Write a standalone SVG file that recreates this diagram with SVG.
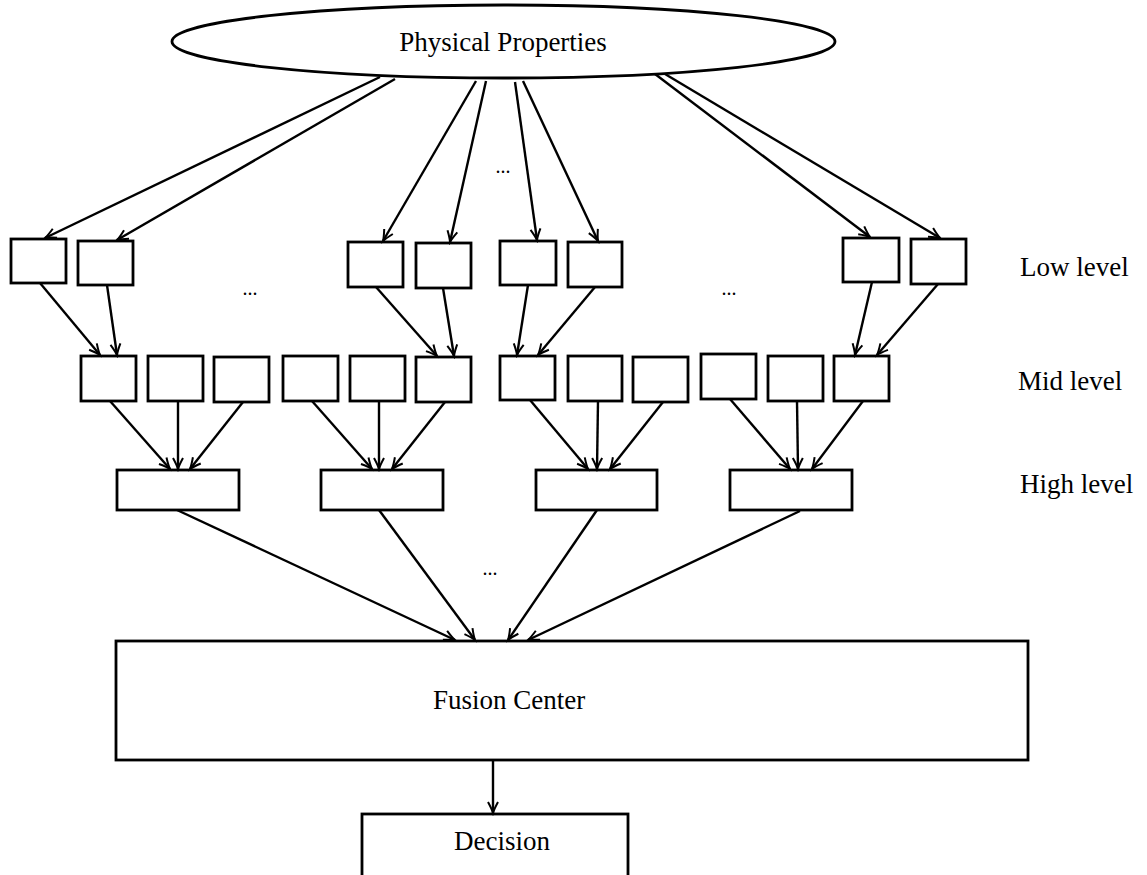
<svg xmlns="http://www.w3.org/2000/svg" width="1147" height="875" viewBox="0 0 1147 875">
<style>
.box{fill:#fff;stroke:#000;stroke-width:2.8}
.lbl{font-family:"Liberation Serif","Times New Roman",serif;font-size:27px;fill:#000}
.dots{font-family:"Liberation Serif","Times New Roman",serif;font-size:20px;fill:#000}
.c line{stroke:#000;stroke-width:2.4;marker-end:url(#ah)}
</style>
<defs>
<marker id="ah" markerUnits="userSpaceOnUse" markerWidth="16" markerHeight="14" viewBox="-13 -7 16 14" refX="0" refY="0" orient="auto">
<path d="M-11,-5 Q-4,-1.2 0,0 Q-4,1.2 -11,5" fill="none" stroke="#000" stroke-width="2"/>
</marker>
</defs>
<rect width="1147" height="875" fill="#fff"/>
<g id="physical-properties">
<ellipse cx="503.5" cy="41.5" rx="331.5" ry="36.5" fill="#fff" stroke="#000" stroke-width="2.8"/>
<text class="lbl" x="503" y="51" text-anchor="middle">Physical Properties</text>
</g>
<g id="low-level">
<rect id="low1" class="box" x="11" y="239" width="55" height="44"/>
<rect id="low2" class="box" x="78" y="241" width="55" height="44"/>
<rect id="low3" class="box" x="348" y="242" width="55" height="45"/>
<rect id="low4" class="box" x="416" y="243" width="55" height="45"/>
<rect id="low5" class="box" x="500" y="241" width="56" height="44"/>
<rect id="low6" class="box" x="568" y="242" width="54" height="45"/>
<rect id="low7" class="box" x="843" y="238" width="56" height="44"/>
<rect id="low8" class="box" x="911" y="239" width="55" height="45"/>
</g>
<g id="mid-level">
<rect id="mid1" class="box" x="81" y="356" width="55" height="45"/>
<rect id="mid2" class="box" x="148" y="356" width="55" height="45"/>
<rect id="mid3" class="box" x="214" y="357" width="55" height="45"/>
<rect id="mid4" class="box" x="283" y="356" width="55" height="45"/>
<rect id="mid5" class="box" x="350" y="356" width="55" height="45"/>
<rect id="mid6" class="box" x="416" y="357" width="55" height="45"/>
<rect id="mid7" class="box" x="500" y="356" width="55" height="44"/>
<rect id="mid8" class="box" x="568" y="356" width="54" height="45"/>
<rect id="mid9" class="box" x="633" y="357" width="55" height="45"/>
<rect id="mid10" class="box" x="701" y="354" width="55" height="45"/>
<rect id="mid11" class="box" x="768" y="356" width="55" height="45"/>
<rect id="mid12" class="box" x="834" y="356" width="55" height="45"/>
</g>
<g id="high-level">
<rect id="high1" class="box" x="117" y="470" width="122" height="40"/>
<rect id="high2" class="box" x="321" y="470" width="122" height="40"/>
<rect id="high3" class="box" x="536" y="470" width="121" height="40"/>
<rect id="high4" class="box" x="730" y="470" width="122" height="40"/>
</g>
<g id="fusion-center">
<rect class="box" x="116" y="641" width="912" height="119"/>
<text class="lbl" x="509" y="709" text-anchor="middle">Fusion Center</text>
</g>
<g id="decision">
<rect class="box" x="362" y="814" width="266" height="70"/>
<text class="lbl" x="502" y="850" text-anchor="middle">Decision</text>
</g>
<g id="level-labels">
<text class="lbl" x="1020" y="276">Low level</text>
<text class="lbl" x="1018" y="390">Mid level</text>
<text class="lbl" x="1020" y="493">High level</text>
</g>
<g id="ellipses">
<text class="dots" x="503" y="173" text-anchor="middle">...</text>
<text class="dots" x="250" y="295" text-anchor="middle">...</text>
<text class="dots" x="729" y="295" text-anchor="middle">...</text>
<text class="dots" x="490" y="575" text-anchor="middle">...</text>
</g>
<g id="connectors" class="c">
<line x1="380" y1="77" x2="45" y2="238"/>
<line x1="395" y1="79" x2="117" y2="240"/>
<line x1="476" y1="81" x2="383" y2="241"/>
<line x1="486" y1="81" x2="450" y2="242"/>
<line x1="515" y1="82" x2="537" y2="240"/>
<line x1="523" y1="81" x2="598" y2="241"/>
<line x1="655" y1="74" x2="870" y2="237"/>
<line x1="665" y1="74" x2="940" y2="238"/>
<line x1="40" y1="283" x2="100" y2="355"/>
<line x1="107" y1="285" x2="117" y2="355"/>
<line x1="376" y1="287" x2="437" y2="356"/>
<line x1="443" y1="288" x2="454" y2="356"/>
<line x1="528" y1="285" x2="517" y2="355"/>
<line x1="595" y1="287" x2="538" y2="355"/>
<line x1="872" y1="282" x2="855" y2="355"/>
<line x1="938" y1="284" x2="877" y2="355"/>
<line x1="110" y1="401" x2="170" y2="469"/>
<line x1="178" y1="401" x2="178" y2="469"/>
<line x1="243" y1="402" x2="190" y2="469"/>
<line x1="312" y1="401" x2="372" y2="469"/>
<line x1="379" y1="401" x2="379" y2="469"/>
<line x1="445" y1="402" x2="392" y2="469"/>
<line x1="530" y1="400" x2="588" y2="469"/>
<line x1="598" y1="401" x2="597" y2="469"/>
<line x1="663" y1="402" x2="610" y2="469"/>
<line x1="730" y1="399" x2="790" y2="469"/>
<line x1="797" y1="401" x2="798" y2="469"/>
<line x1="863" y1="401" x2="812" y2="469"/>
<line x1="177" y1="510" x2="455" y2="640"/>
<line x1="379" y1="510" x2="475" y2="640"/>
<line x1="597" y1="510" x2="508" y2="640"/>
<line x1="800" y1="511" x2="528" y2="640"/>
<line x1="493" y1="760" x2="493" y2="813"/>
</g>
</svg>
